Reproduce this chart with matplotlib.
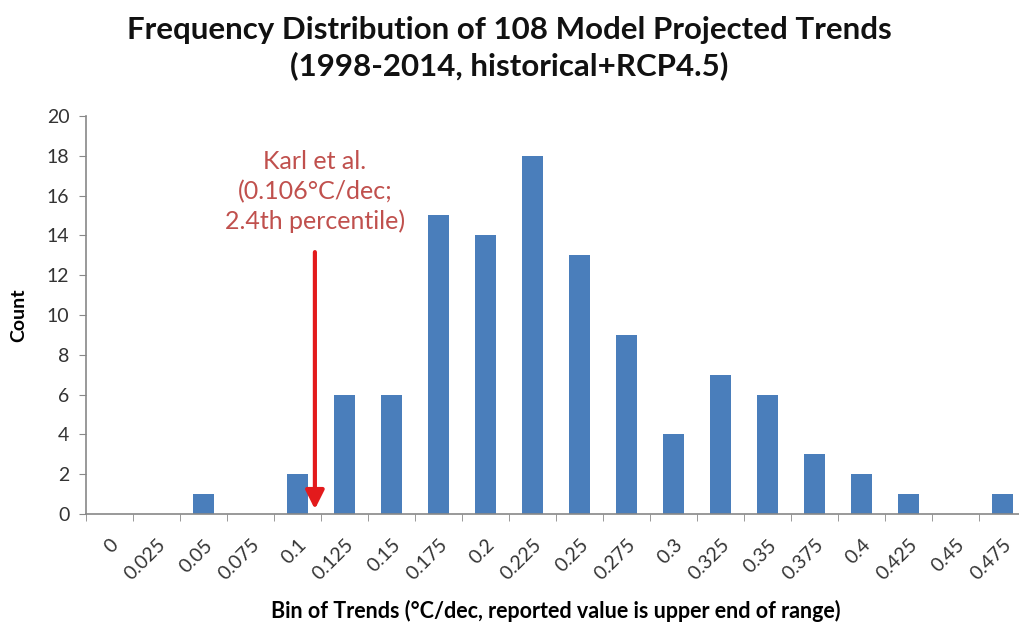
import matplotlib
matplotlib.use('Agg')
import matplotlib.pyplot as plt

plt.rcParams['font.family'] = ['Lato', 'DejaVu Sans']

# bins (upper end of range) and model counts
bins = ['0', '0.025', '0.05', '0.075', '0.1', '0.125', '0.15', '0.175', '0.2', '0.225',
        '0.25', '0.275', '0.3', '0.325', '0.35', '0.375', '0.4', '0.425', '0.45', '0.475']
counts = [0, 0, 1, 0, 2, 6, 6, 15, 14, 18, 13, 9, 4, 7, 6, 3, 2, 1, 0, 1]

# Karl et al. trend marker position (category index units) and arrow extent
karl_x = 4.37
arrow_top = 13.3

fig = plt.figure(figsize=(10.19, 6.25), dpi=100)
ax = fig.add_axes([86 / 1019, 111 / 625, 940 / 1019, 398 / 625])

pos = list(range(len(bins)))
ax.bar(pos, counts, width=0.43, color='#4a7ebb')

ax.set_xlim(-0.5, len(bins) - 0.5)
ax.set_ylim(0, 20)
ax.set_yticks(range(0, 21, 2))

ax.set_xticks(pos)
ax.set_xticklabels(bins, rotation=45, ha='right', va='top', rotation_mode='anchor')
ax.set_xticks([p - 0.5 for p in pos], minor=True)
ax.tick_params(axis='x', which='major', length=0, pad=16, labelsize=14, labelcolor='#333333')
ax.tick_params(axis='x', which='minor', length=5, color='#888888', direction='out')
ax.tick_params(axis='y', length=5, color='#888888', labelsize=14, labelcolor='#333333', pad=7)

for s in ['top', 'right']:
    ax.spines[s].set_visible(False)
for s in ['left', 'bottom']:
    ax.spines[s].set_color('#888888')
    ax.spines[s].set_linewidth(1.2)

ax.set_ylabel('Count', fontsize=14, fontweight='bold', labelpad=14)
ax.set_xlabel('Bin of Trends (°C/dec, reported value is upper end of range)',
              fontsize=15.5, fontweight='bold', labelpad=12)

fig.text(0.5, 0.975, 'Frequency Distribution of 108 Model Projected Trends\n(1998-2014, historical+RCP4.5)',
         ha='center', va='top', fontsize=22.5, fontweight='bold', color='#111111', linespacing=1.3)

ax.annotate('', xy=(karl_x, 0.1), xytext=(karl_x, arrow_top),
            arrowprops=dict(arrowstyle='-|>', color='#e31a1c', lw=3, mutation_scale=28))
ax.text(karl_x, 14.1, 'Karl et al.\n(0.106°C/dec;\n2.4th percentile)', ha='center', va='bottom',
        fontsize=18, color='#c0504d', linespacing=1.35)

fig.savefig('out.png', dpi=100)
